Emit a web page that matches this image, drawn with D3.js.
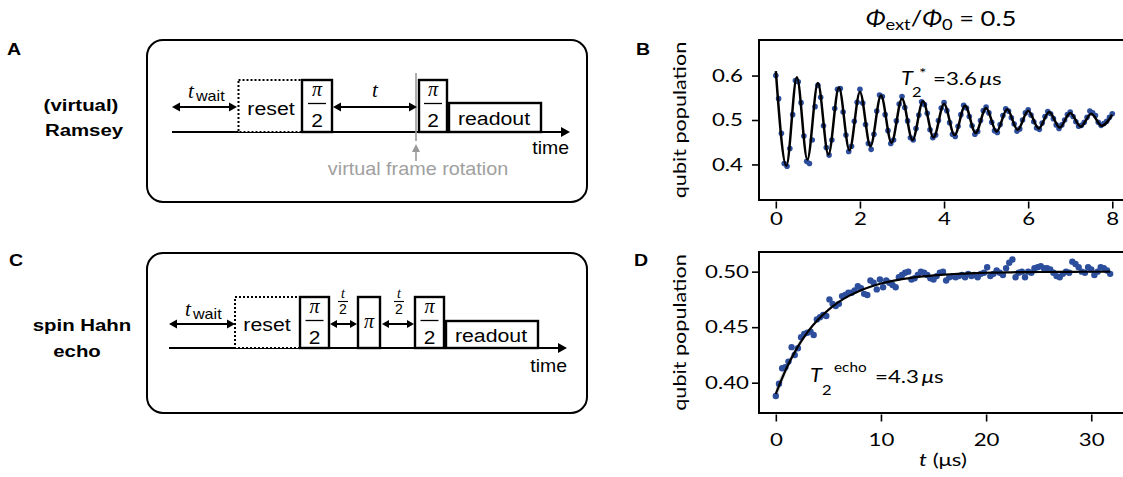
<!DOCTYPE html>
<html lang="en">
<head>
<meta charset="UTF-8" />
<title>Ramsey and spin echo</title>
<script src="https://cdn.jsdelivr.net/npm/d3@7"></script>
<style>
  body { margin: 0; background: #fff; }
  svg { display: block; }
</style>
</head>
<body>
<script>
// ---------- data ----------
// B: Ramsey, samples every 8/120 us
var ramseyStep = 8 / 120;
var ramseyPop = [
  0.600, 0.548, 0.470, 0.402, 0.396, 0.436, 0.512, 0.589, 0.586, 0.539, 0.464, 0.407, 0.402, 0.455, 0.530,
  0.578, 0.551, 0.487, 0.438, 0.421, 0.455, 0.526, 0.569, 0.571, 0.518, 0.466, 0.429, 0.441, 0.497, 0.540,
  0.569, 0.538, 0.490, 0.447, 0.434, 0.468, 0.520, 0.556, 0.553, 0.512, 0.476, 0.447, 0.455, 0.498, 0.536,
  0.553, 0.528, 0.498, 0.460, 0.455, 0.481, 0.511, 0.541, 0.535, 0.515, 0.478, 0.460, 0.466, 0.499, 0.527,
  0.539, 0.521, 0.494, 0.468, 0.463, 0.486, 0.512, 0.533, 0.527, 0.508, 0.487, 0.468, 0.474, 0.499, 0.521,
  0.529, 0.516, 0.495, 0.476, 0.472, 0.490, 0.510, 0.525, 0.520, 0.505, 0.491, 0.475, 0.480, 0.500, 0.516,
  0.523, 0.511, 0.496, 0.482, 0.479, 0.493, 0.508, 0.519, 0.514, 0.503, 0.489, 0.481, 0.489, 0.500, 0.512,
  0.518, 0.508, 0.496, 0.486, 0.488, 0.495, 0.506, 0.520, 0.516, 0.510, 0.495, 0.488, 0.492, 0.497, 0.506,
  0.514
];
// fit: peaks and troughs of the damped cosine (T2* = 3.6 us)
var ramseyFitT = [0, 0.25, 0.5, 0.75, 1, 1.25, 1.5, 1.75, 2, 2.25, 2.5, 2.75, 3, 3.25, 3.5, 3.75,
  4, 4.25, 4.5, 4.75, 5, 5.25, 5.5, 5.75, 6, 6.25, 6.5, 6.75, 7, 7.25, 7.5, 7.75, 8];
var ramseyFitPop = [0.610, 0.397, 0.596, 0.411, 0.583, 0.422, 0.573, 0.432, 0.563, 0.441, 0.555,
  0.449, 0.548, 0.455, 0.542, 0.461, 0.536, 0.466, 0.532, 0.471, 0.527, 0.474, 0.524, 0.478,
  0.521, 0.481, 0.518, 0.483, 0.516, 0.485, 0.514, 0.487, 0.512];

// D: spin echo, samples every 0.3 us
var echoStep = 0.3;
var echoPop = [
  0.388, 0.399, 0.413, 0.414, 0.419, 0.432, 0.425, 0.431, 0.441, 0.444,
  0.445, 0.446, 0.443, 0.457, 0.459, 0.461, 0.460, 0.475, 0.471, 0.469,
  0.471, 0.478, 0.479, 0.481, 0.481, 0.483, 0.487, 0.485, 0.480, 0.479,
  0.492, 0.490, 0.484, 0.493, 0.486, 0.492, 0.490, 0.488, 0.486, 0.495,
  0.497, 0.499, 0.500, 0.493, 0.494, 0.497, 0.500, 0.499, 0.497, 0.494,
  0.493, 0.496, 0.499, 0.500, 0.492, 0.495, 0.496, 0.495, 0.496, 0.497,
  0.495, 0.498, 0.496, 0.497, 0.495, 0.498, 0.499, 0.504, 0.496, 0.498,
  0.501, 0.499, 0.497, 0.503, 0.508, 0.511, 0.495, 0.499, 0.500, 0.495,
  0.500, 0.499, 0.503, 0.504, 0.505, 0.503, 0.503, 0.502, 0.499, 0.496,
  0.495, 0.498, 0.500, 0.499, 0.509, 0.507, 0.504, 0.500, 0.499, 0.504,
  0.502, 0.497, 0.500, 0.504, 0.503, 0.501, 0.498
];
var echoFitT = [0, 1, 2, 3, 4, 5, 6, 7, 8, 9, 10, 11, 12, 13, 14, 15, 16, 17, 18, 19, 20,
  21, 22, 23, 24, 25, 26, 27, 28, 29, 30, 31, 31.8];
var echoFitPop = [0.3900, 0.4128, 0.4309, 0.4453, 0.4566, 0.4656, 0.4728, 0.4784, 0.4829,
  0.4864, 0.4893, 0.4915, 0.4932, 0.4947, 0.4958, 0.4966, 0.4973, 0.4979, 0.4983, 0.4987,
  0.4990, 0.4992, 0.4993, 0.4995, 0.4996, 0.4997, 0.4997, 0.4998, 0.4998, 0.4999, 0.4999,
  0.4999, 0.5000];
// faint confidence band of the fit near t = 0
var echoBandT = [0, 1, 2, 3, 4];
var echoBandHalf = [0.006, 0.004, 0.003, 0.002, 0.001];

var ticksBx = [0, 2, 4, 6, 8];
var ticksBy = [0.4, 0.5, 0.6];
var ticksDx = [0, 10, 20, 30];
var ticksDy = [0.40, 0.45, 0.50];

// ---------- drawing ----------
var plotFont = "Lato, 'Noto Sans', 'DejaVu Sans', sans-serif";
var diagFont = "'Liberation Sans', Arial, sans-serif";
var mathFont = "'Liberation Serif', 'DejaVu Serif', serif";
var blue = "#2c4e9c";
var SX = 1.27;
var FS = 17.5;

var svg = d3.select("body").append("svg")
  .attr("width", 1123)
  .attr("height", 477);

function txt(g, x, y, s, o) {
  o = o || {};
  var t = g.append("text")
    .attr("transform", "translate(" + x + "," + y + ")" +
      (o.rot ? " rotate(" + o.rot + ")" : "") +
      " scale(" + (o.sx || 1) + ",1)")
    .attr("text-anchor", o.anchor || "start")
    .style("font-family", o.family || plotFont)
    .style("font-size", (o.size || FS) + "px")
    .style("font-weight", o.weight || "normal")
    .style("font-style", o.italic ? "italic" : "normal")
    .attr("fill", o.fill || "#000")
    .text(s);
  if (o.dy) t.attr("dy", o.dy);
  return t;
}

function stretchTicks(axisG) {
  axisG.selectAll("text").each(function() {
    var t = d3.select(this);
    var tx = +t.attr("x") || 0, ty = +t.attr("y") || 0;
    t.attr("transform", "translate(" + tx + "," + ty + ") scale(" + SX + ",1)")
      .attr("x", 0).attr("y", 0);
  });
}

function plotPanel(c) {
  var x = d3.scaleLinear().domain(c.xDomain).range([759, 1127]);
  var y = d3.scaleLinear().domain(c.yDomain).range([c.bottom, c.top]);
  var g = svg.append("g");

  if (c.bandT) {
    var band = d3.area()
      .x(function(d) { return x(d[0]); })
      .y0(function(d) { return y(d[1] - d[2]); })
      .y1(function(d) { return y(d[1] + d[2]); })
      .curve(d3.curveMonotoneX);
    var fitAt = c.bandT.map(function(t) { return c.fitPop[c.fitT.indexOf(t)]; });
    g.append("path")
      .datum(d3.zip(c.bandT, fitAt, c.bandHalf))
      .attr("d", band)
      .attr("fill", "#d8d8d8");
  }

  g.selectAll("circle.pt")
    .data(c.pop)
    .enter().append("circle")
    .attr("class", "pt")
    .attr("cx", function(d, i) { return x(i * c.step); })
    .attr("cy", function(d) { return y(d); })
    .attr("r", c.r)
    .attr("fill", blue);

  var line = d3.line()
    .x(function(d) { return x(d[0]); })
    .y(function(d) { return y(d[1]); })
    .curve(d3.curveMonotoneX);
  g.append("path")
    .datum(d3.zip(c.fitT, c.fitPop))
    .attr("d", line)
    .attr("fill", "none")
    .attr("stroke", "#000")
    .attr("stroke-width", c.lw);

  // frame (right side runs off the page)
  g.append("path")
    .attr("d", "M" + x.range()[1] + "," + c.top + "H" + x.range()[0] + "V" + c.bottom + "H" + x.range()[1])
    .attr("fill", "none")
    .attr("stroke", "#000")
    .attr("stroke-width", 2);

  var xa = g.append("g")
    .attr("transform", "translate(0," + (c.bottom + 1.5) + ")")
    .call(d3.axisBottom(x).tickValues(c.xTicks).tickSize(7).tickPadding(c.xPad).tickFormat(d3.format("d")));
  var ya = g.append("g")
    .attr("transform", "translate(758,0)")
    .call(d3.axisLeft(y).tickValues(c.yTicks).tickSize(6).tickPadding(c.yPad).tickFormat(d3.format(c.yFmt)));
  [xa, ya].forEach(function(a) {
    a.select(".domain").remove();
    a.attr("font-family", plotFont).attr("font-size", FS);
    a.selectAll("line").attr("stroke-width", 1.6);
    stretchTicks(a);
  });

  txt(g, 680, (c.top + c.bottom) / 2, "qubit population",
    { rot: -90, anchor: "middle", sx: 1.2, dy: "0.35em", size: 18 });
  return g;
}

var gB = plotPanel({
  xDomain: [-0.4, 8.35], yDomain: [0.32, 0.68], top: 40, bottom: 200,
  pop: ramseyPop, step: ramseyStep, r: 2.8, lw: 2.5,
  fitT: ramseyFitT, fitPop: ramseyFitPop,
  xTicks: ticksBx, yTicks: ticksBy, xPad: 4, yPad: 9, yFmt: ".1f"
});

var gD = plotPanel({
  xDomain: [-1.6, 33.4], yDomain: [0.3727, 0.5177], top: 252, bottom: 413,
  pop: echoPop, step: echoStep, r: 3.2, lw: 2.2,
  fitT: echoFitT, fitPop: echoFitPop,
  bandT: echoBandT, bandHalf: echoBandHalf,
  xTicks: ticksDx, yTicks: ticksDy, xPad: 12, yPad: 3, yFmt: ".2f"
});

// title over B
var title = txt(svg, 941, 26, "", { anchor: "middle", sx: 1.22, size: 21 });
title.append("tspan").style("font-style", "italic").text("\u03A6");
title.append("tspan").attr("dy", 4).style("font-size", "15px").text("ext");
title.append("tspan").attr("dy", -4).text("/");
title.append("tspan").style("font-style", "italic").text("\u03A6");
title.append("tspan").attr("dy", 4).style("font-size", "15px").text("0");
title.append("tspan").attr("dy", -4).text(" = 0.5");

// fit annotations
txt(gB, 901, 85, "T", { italic: true, size: 19, sx: 1.15 });
txt(gB, 912, 97, "2", { size: 13, sx: SX });
txt(gB, 919, 78, "*", { size: 14, sx: SX });
var aB = txt(gB, 933, 85, "=3.6\u2009", { sx: SX });
aB.append("tspan").style("font-style", "italic").text("\u03BC");
aB.append("tspan").text("s");

txt(gD, 810, 382, "T", { italic: true, size: 19, sx: 1.15 });
txt(gD, 822, 395, "2", { size: 13, sx: SX });
txt(gD, 834, 372, "echo", { size: 13, sx: 1.18 });
var aD = txt(gD, 875, 383, "=4.3\u2009", { sx: SX });
aD.append("tspan").style("font-style", "italic").text("\u03BC");
aD.append("tspan").text("s");

var xl = txt(gD, 943, 466, "", { anchor: "middle", sx: SX });
xl.append("tspan").style("font-style", "italic").text("t");
xl.append("tspan").text(" (\u03BCs)");

// ---------- pulse sequence sketches ----------
function arrowHead(g, x, y, dir, len, half, color) {
  g.append("path")
    .attr("d", "M" + x + "," + y + "L" + (x - dir * len) + "," + (y - half) + "L" + (x - dir * len) + "," + (y + half) + "Z")
    .attr("fill", color || "#000");
}
function dblArrow(g, x1, x2, y, len, half) {
  g.append("line").attr("x1", x1 + len - 1).attr("x2", x2 - len + 1).attr("y1", y).attr("y2", y)
    .attr("stroke", "#000").attr("stroke-width", 2);
  arrowHead(g, x1, y, -1, len, half);
  arrowHead(g, x2, y, 1, len, half);
}
function pulse(g, x1, x2, top, bottom, dotted) {
  g.append("rect")
    .attr("x", x1).attr("y", top).attr("width", x2 - x1).attr("height", bottom - top)
    .attr("fill", "#fff")
    .attr("stroke", "#000")
    .attr("stroke-width", dotted ? 2 : 2.4)
    .attr("stroke-dasharray", dotted ? "2,2" : null);
}
function piHalf(g, cx, base) {
  txt(g, cx, base, "\u03C0", { anchor: "middle", family: mathFont, italic: true, size: 20 });
  g.append("line").attr("x1", cx - 9).attr("x2", cx + 9).attr("y1", base + 7.5).attr("y2", base + 7.5)
    .attr("stroke", "#000").attr("stroke-width", 1.3);
  txt(g, cx, base + 31, "2", { anchor: "middle", family: diagFont, size: 19, sx: 1.1 });
}
function tWait(g, x, base) {
  txt(g, x, base, "t", { family: mathFont, italic: true, size: 21 });
  txt(g, x + 8, base + 3, "wait", { family: diagFont, size: 14, sx: 1.15 });
}
var dOpt = { family: diagFont, size: 19, sx: 1.12 };
var boldOpt = { family: diagFont, size: 17, weight: "bold", sx: 1.2, anchor: "middle" };

// panel A
var gA = svg.append("g");
txt(gA, 7, 55, "A", { family: diagFont, size: 17, weight: "bold", sx: 1.15 });
gA.append("rect").attr("x", 147).attr("y", 40).attr("width", 440).attr("height", 162).attr("rx", 16)
  .attr("fill", "none").attr("stroke", "#000").attr("stroke-width", 2);
txt(gA, 81, 111, "(virtual)", boldOpt);
txt(gA, 84, 136, "Ramsey", boldOpt);
gA.append("line").attr("x1", 172).attr("x2", 562).attr("y1", 132).attr("y2", 132)
  .attr("stroke", "#000").attr("stroke-width", 2);
arrowHead(gA, 570, 132, 1, 9, 5);
pulse(gA, 238.5, 302, 80, 132, true);
pulse(gA, 302, 332, 80, 132);
pulse(gA, 419, 447, 80, 132);
pulse(gA, 449, 541, 103, 132);
gA.append("line").attr("x1", 416).attr("x2", 416).attr("y1", 73).attr("y2", 141)
  .attr("stroke", "#9a9a9a").attr("stroke-width", 1.6);
gA.append("line").attr("x1", 416).attr("x2", 416).attr("y1", 150).attr("y2", 161)
  .attr("stroke", "#9a9a9a").attr("stroke-width", 1.6);
gA.append("path").attr("d", "M416,144L412,152L420,152Z").attr("fill", "#9a9a9a");
dblArrow(gA, 172, 237, 107, 8, 4.5);
dblArrow(gA, 333, 417, 107, 8, 4.5);
tWait(gA, 188, 98);
txt(gA, 375, 97, "t", { anchor: "middle", family: mathFont, italic: true, size: 21 });
txt(gA, 271, 115, "reset", Object.assign({ anchor: "middle" }, dOpt));
piHalf(gA, 317, 96);
piHalf(gA, 433, 96);
txt(gA, 494, 125, "readout", Object.assign({ anchor: "middle" }, dOpt));
txt(gA, 569, 154, "time", { family: diagFont, size: 18, sx: 1.08, anchor: "end" });
txt(gA, 418, 175, "virtual frame rotation", { family: diagFont, size: 18, sx: 1.1, anchor: "middle", fill: "#a0a0a0" });

// panel C
var gC = svg.append("g");
txt(gC, 9, 266, "C", { family: diagFont, size: 17, weight: "bold", sx: 1.15 });
gC.append("rect").attr("x", 147).attr("y", 253).attr("width", 440).attr("height", 160).attr("rx", 16)
  .attr("fill", "none").attr("stroke", "#000").attr("stroke-width", 2);
txt(gC, 82, 330.5, "spin Hahn", boldOpt);
txt(gC, 77, 357, "echo", boldOpt);
gC.append("line").attr("x1", 169).attr("x2", 559).attr("y1", 348).attr("y2", 348)
  .attr("stroke", "#000").attr("stroke-width", 2);
arrowHead(gC, 567, 348, 1, 9, 5);
pulse(gC, 235, 300, 297, 348, true);
pulse(gC, 300, 329, 297, 348);
pulse(gC, 358, 380, 297, 348);
pulse(gC, 415, 444, 297, 348);
pulse(gC, 446, 538, 321, 348);
dblArrow(gC, 169, 235, 324, 8, 4.5);
dblArrow(gC, 330, 357, 324, 7, 4);
dblArrow(gC, 382, 414, 324, 7, 4);
tWait(gC, 185, 316);
[343, 399].forEach(function(cx) {
  txt(gC, cx, 298, "t", { anchor: "middle", family: mathFont, italic: true, size: 14 });
  gC.append("line").attr("x1", cx - 5).attr("x2", cx + 5).attr("y1", 301.5).attr("y2", 301.5)
    .attr("stroke", "#000").attr("stroke-width", 1.1);
  txt(gC, cx, 314, "2", { anchor: "middle", family: diagFont, size: 14 });
});
txt(gC, 267, 330.5, "reset", Object.assign({ anchor: "middle" }, dOpt));
piHalf(gC, 314.5, 313);
txt(gC, 369, 328, "\u03C0", { anchor: "middle", family: mathFont, italic: true, size: 20 });
piHalf(gC, 429.5, 313);
txt(gC, 491, 341.5, "readout", Object.assign({ anchor: "middle" }, dOpt));
txt(gC, 567, 372, "time", { family: diagFont, size: 18, sx: 1.08, anchor: "end" });

// plot panel letters
txt(svg, 636, 55, "B", { family: diagFont, size: 17, weight: "bold", sx: 1.15 });
txt(svg, 634, 266, "D", { family: diagFont, size: 17, weight: "bold", sx: 1.15 });
</script>
</body>
</html>
